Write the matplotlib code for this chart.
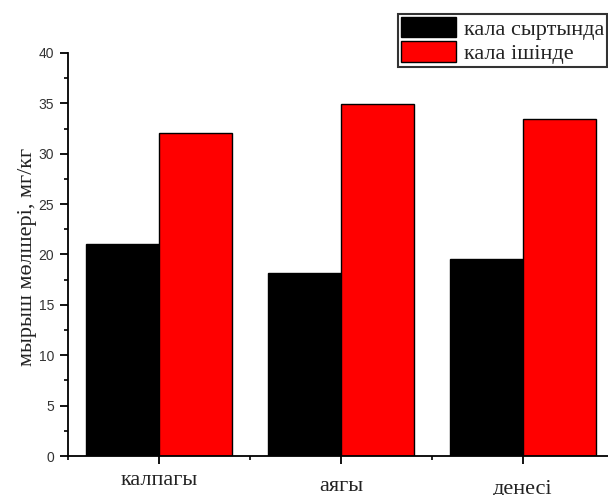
import numpy as np
import matplotlib
matplotlib.use('Agg')
import matplotlib.pyplot as plt
from matplotlib.ticker import MultipleLocator, FixedLocator

# zinc content in mushroom parts, mg/kg
parts = ['калпагы', 'аягы', 'денесі']
outside_city = [21.0, 18.2, 19.6]
inside_city = [32.05, 34.9, 33.45]
series_names = ['кала сыртында', 'кала ішінде']

serif = ['Liberation Serif', 'DejaVu Serif']
sans = ['Liberation Sans', 'DejaVu Sans']

fig = plt.figure(figsize=(6.08, 4.95), dpi=100)
ax = fig.add_axes([68 / 608, 1 - 456 / 495, (614 - 68) / 608, (456 - 53) / 495])

x = np.arange(1, len(parts) + 1)
w = 0.4
ax.bar(x - w / 2, outside_city, w, color='black', edgecolor='black',
       linewidth=1.0, label=series_names[0])
ax.bar(x + w / 2, inside_city, w, color='#ff0000', edgecolor='black',
       linewidth=1.0, label=series_names[1])

ax.set_xlim(0.5, 3.5)
ax.set_ylim(0, 40)

for side in ['top', 'right']:
    ax.spines[side].set_visible(False)
for side in ['left', 'bottom']:
    ax.spines[side].set_linewidth(1.3)

ax.set_xticks(x)
ax.set_xticklabels(parts, fontfamily=serif, fontsize=16)
ax.xaxis.set_minor_locator(FixedLocator([0.5, 1.5, 2.5]))
ax.yaxis.set_major_locator(MultipleLocator(5))
ax.yaxis.set_minor_locator(MultipleLocator(2.5))

ax.tick_params(axis='both', which='major', direction='out', length=6,
               width=1.3, labelcolor='#333333')
ax.tick_params(axis='both', which='minor', direction='out', length=3, width=1.2)
ax.tick_params(axis='y', labelsize=10, pad=4)
for lab in ax.get_yticklabels():
    lab.set_fontfamily(sans)

# staggered category labels
for tick, pad in zip(ax.xaxis.get_major_ticks(), [5, 9, 11]):
    tick.set_pad(pad)
for lab in ax.get_xticklabels():
    lab.set_color('#222222')

ax.set_ylabel('мырыш мөлшері, мг/кг', fontfamily=serif, fontsize=16,
              color='#222222')
ax.yaxis.set_label_coords(-0.0568, 0.494)

leg = fig.legend(loc='upper left', bbox_to_anchor=(398 / 608, 1 - 14 / 495),
                 prop={'family': serif, 'size': 16}, frameon=True,
                 fancybox=False, handlelength=2.5, handleheight=1.05,
                 handletextpad=0.35, labelspacing=0.08, borderpad=0.12,
                 borderaxespad=0)
leg.get_frame().set_edgecolor('black')
leg.get_frame().set_linewidth(1.5)
for t in leg.get_texts():
    t.set_color('#222222')

fig.savefig('out.png', dpi=100)
